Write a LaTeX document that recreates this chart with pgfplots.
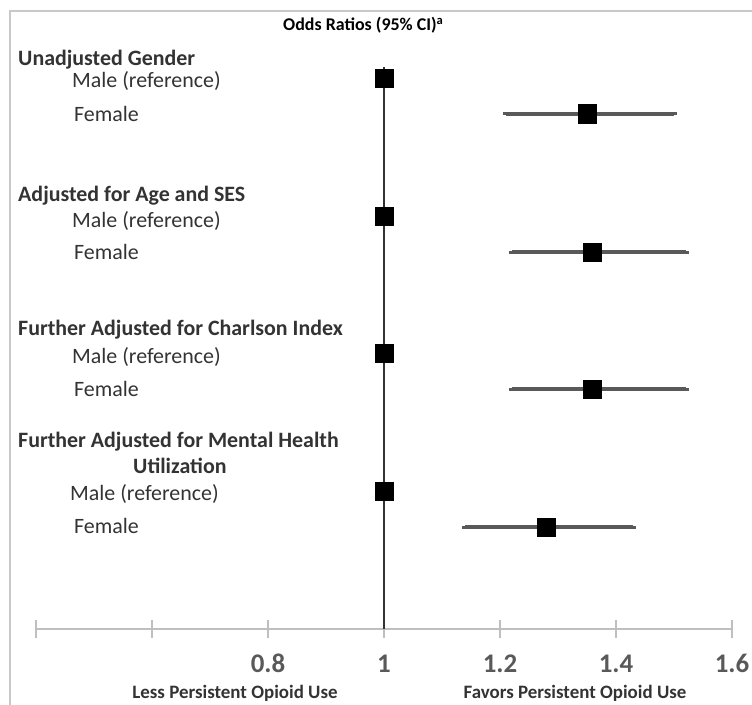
\documentclass[border=0pt]{standalone}
\usepackage{fontspec}
\setmainfont{Carlito}
\usepackage{pgfplots}
\pgfplotsset{compat=1.18}
\definecolor{txt}{HTML}{333333}
\definecolor{tickc}{HTML}{595959}
\definecolor{axisgray}{HTML}{BFBFBF}
\definecolor{errgray}{HTML}{595959}
\definecolor{framec}{HTML}{C8C8C8}
\pgfdeclareplotmark{rsquare}{%
  \pgfsetcornersarced{\pgfpoint{0.4\pgfplotmarksize}{0.4\pgfplotmarksize}}%
  \pgfpathrectanglecorners{\pgfpoint{-\pgfplotmarksize}{-\pgfplotmarksize}}{\pgfpoint{\pgfplotmarksize}{\pgfplotmarksize}}%
  \pgfusepathqfillstroke}
\begin{document}
\begin{tikzpicture}[x=1bp,y=1bp]
\useasboundingbox (0,0) rectangle (752,-705);
\draw[framec, line width=1.5bp] (10,-705) -- (10,-11) -- (752,-11);
\begin{axis}[
  at={(36bp,-629bp)}, anchor=south west,
  scale only axis, width=696bp, height=562bp,
  xmin=0.4, xmax=1.6, ymin=-629, ymax=-67,
  axis x line=bottom, axis y line=none,
  x axis line style={-, axisgray, line width=1.5bp},
  xtick={0.4,0.6,0.8,1,1.2,1.4,1.6},
  xticklabels={,,0.8,1,1.2,1.4,1.6},
  major tick length=18bp, tick align=center,
  xtick style={axisgray, line width=1.5bp},
  xticklabel style={font=\fontsize{27}{27}\selectfont\bfseries, text=tickc, anchor=base, yshift=-34bp},
  clip=false,
]
\addplot[draw=black!80, line width=2bp] coordinates {(1,-67) (1,-629)};
\addplot[only marks, mark=none, error bars/.cd, x dir=both, x explicit,
  error bar style={line width=3.5bp, errgray},
  error mark options={line width=3bp, mark size=3bp, errgray}]
  coordinates {
  (1.35,-114) -= (0.14,0) += (0.15,0)
  (1.36,-252) -= (0.14,0) += (0.16,0)
  (1.36,-389) -= (0.14,0) += (0.16,0)
  (1.28,-527) -= (0.14,0) += (0.15,0)
};
\addplot[only marks, mark=rsquare, mark size=9bp, mark options={fill=black, draw=black, line width=1bp}]
  coordinates {
  (1,-79) (1.35,-114)
  (1,-216) (1.36,-252)
  (1,-353) (1.36,-389)
  (1,-491) (1.28,-527)
};
\end{axis}
\node[anchor=base west, inner sep=0pt, font=\fontsize{18}{18}\selectfont\bfseries] at (283,-31) {Odds Ratios (95\% CI)\textsuperscript{a}};
\begin{scope}[every node/.style={anchor=base west, inner sep=0pt, text=txt}]
\node[font=\fontsize{22}{22}\selectfont\bfseries] at (18,-66) {Unadjusted Gender};
\node[font=\fontsize{22}{22}\selectfont] at (72,-88) {Male (reference)};
\node[font=\fontsize{22}{22}\selectfont] at (74,-122) {Female};
\node[font=\fontsize{22}{22}\selectfont\bfseries] at (18,-201) {Adjusted for Age and SES};
\node[font=\fontsize{22}{22}\selectfont] at (72,-227) {Male (reference)};
\node[font=\fontsize{22}{22}\selectfont] at (74,-259) {Female};
\node[font=\fontsize{22}{22}\selectfont\bfseries] at (18,-335) {Further Adjusted for Charlson Index};
\node[font=\fontsize{22}{22}\selectfont] at (72,-363) {Male (reference)};
\node[font=\fontsize{22}{22}\selectfont] at (74,-396) {Female};
\node[font=\fontsize{22}{22}\selectfont\bfseries] at (18,-447) {Further Adjusted for Mental Health};
\node[font=\fontsize{22}{22}\selectfont\bfseries] at (133,-473) {Utilization};
\node[font=\fontsize{22}{22}\selectfont] at (70,-500) {Male (reference)};
\node[font=\fontsize{22}{22}\selectfont] at (74,-533) {Female};
\end{scope}
\node[anchor=base, inner sep=0pt, text=txt, font=\fontsize{19}{19}\selectfont\bfseries] at (235,-698) {Less Persistent Opioid Use};
\node[anchor=base, inner sep=0pt, text=txt, font=\fontsize{19}{19}\selectfont\bfseries] at (575,-698) {Favors Persistent Opioid Use};
\end{tikzpicture}
\end{document}
